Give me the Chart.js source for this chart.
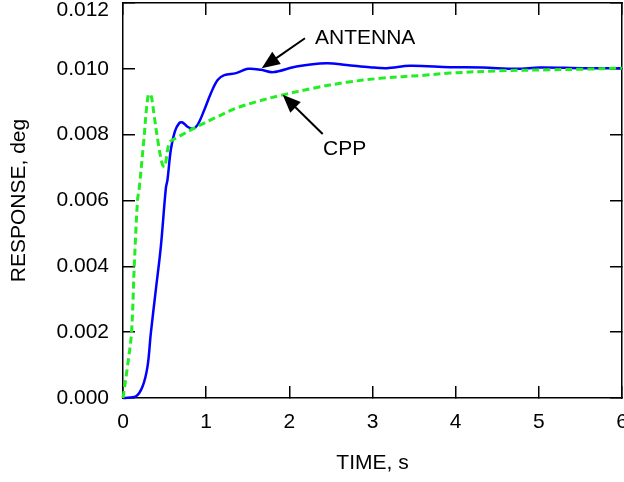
<!DOCTYPE html>
<html>
<head>
<meta charset="utf-8">
<title>Step response</title>
<script src="https://cdn.jsdelivr.net/npm/chart.js@4.4.1/dist/chart.umd.min.js"></script>
<style>
  html, body { margin: 0; padding: 0; background: #fff; }
</style>
</head>
<body>
<canvas id="responseChart" width="624" height="482"></canvas>
<script>
// time (s) and response (deg) for the antenna model
const antennaTime = [0, 0.154, 0.235, 0.295, 0.335, 0.395, 0.455, 0.515, 0.535, 0.575, 0.623, 0.676, 0.716,
    0.776, 0.837, 0.897, 0.977, 1.057, 1.138, 1.218, 1.358, 1.502, 1.663, 1.803, 2.085, 2.446, 2.687,
    2.967, 3.168, 3.449, 3.930, 4.327, 4.733, 5.013, 5.531, 6.0];
const antennaResp = [0, 0.00005, 0.00035, 0.00096, 0.00198, 0.00329, 0.00460, 0.00637, 0.00663, 0.00754,
    0.00809, 0.00835, 0.00837, 0.00824, 0.00818, 0.00830, 0.00875, 0.00926, 0.00966, 0.00981, 0.00987,
    0.01000, 0.00997, 0.00990, 0.01007, 0.01017, 0.01012, 0.01005, 0.01002, 0.01009, 0.01005, 0.01004,
    0.01000, 0.01004, 0.01002, 0.01002];

// time (s) and response (deg) for the CPP model
const cppTime = [0, 0.054, 0.102, 0.135, 0.175, 0.195, 0.247, 0.303, 0.335, 0.376, 0.424, 0.475, 0.503,
    0.536, 0.568, 0.656, 0.857, 1.098, 1.358, 1.602, 1.923, 2.285, 2.687, 3.087, 3.649, 3.930, 4.532,
    5.133, 5.531, 6.0];
const cppResp = [0, 0.00096, 0.00198, 0.00399, 0.00602, 0.00637, 0.00774, 0.00921, 0.00921, 0.00855,
    0.00774, 0.00708, 0.00703, 0.00754, 0.00779, 0.00792, 0.00820, 0.00850, 0.00880, 0.00900, 0.00921,
    0.00941, 0.00959, 0.00971, 0.00981, 0.00987, 0.00994, 0.00997, 0.00999, 0.01002];

const xTicks = [0, 1, 2, 3, 4, 5, 6];
const yTicks = [0, 0.002, 0.004, 0.006, 0.008, 0.010, 0.012];

// callouts: arrow from tail to tip, label placed at "at" (data units)
const callouts = [
    { text: 'ANTENNA', tail: [2.188, 0.01093], tip: [1.668, 0.01002], at: [2.309, 0.01094] },
    { text: 'CPP', tail: [2.401, 0.00802], tip: [1.920, 0.00921], at: [2.405, 0.00757] }
];

const FONT = 'Liberation Sans, Arial, Helvetica, sans-serif';

function toPoints(xs, ys) {
    return xs.map((x, i) => ({ x: x, y: ys[i] }));
}

// fixed box sizes so the plot area lands where it should
function fixSize(w, h) {
    return function (scale) {
        if (w !== null) scale.width = w;
        if (h !== null) scale.height = h;
        scale.paddingLeft = 0;
        scale.paddingRight = 0;
        scale.paddingTop = 0;
        scale.paddingBottom = 0;
    };
}

const frameGrid = {
    drawOnChartArea: false,
    drawTicks: true,
    tickLength: -12,       // inward tick marks
    color: '#000',
    lineWidth: 1.5
};
const frameBorder = { display: true, color: '#000', width: 1.5 };

function axis(extra) {
    return Object.assign({
        type: 'linear',
        grid: frameGrid,
        border: frameBorder
    }, extra);
}

const calloutPlugin = {
    id: 'callouts',
    afterDatasetsDraw(chart) {
        const ctx = chart.ctx;
        const xs = chart.scales.x;
        const ys = chart.scales.y;
        ctx.save();
        ctx.strokeStyle = '#000';
        ctx.fillStyle = '#000';
        ctx.lineWidth = 2;
        callouts.forEach(function (c) {
            const tx = xs.getPixelForValue(c.tail[0]);
            const ty = ys.getPixelForValue(c.tail[1]);
            const hx = xs.getPixelForValue(c.tip[0]);
            const hy = ys.getPixelForValue(c.tip[1]);
            const ang = Math.atan2(hy - ty, hx - tx);
            const len = 18, half = 7.5;
            const bx = hx - Math.cos(ang) * len;
            const by = hy - Math.sin(ang) * len;
            ctx.beginPath();
            ctx.moveTo(tx, ty);
            ctx.lineTo(bx + Math.cos(ang) * 2, by + Math.sin(ang) * 2);
            ctx.stroke();
            ctx.beginPath();
            ctx.moveTo(hx, hy);
            ctx.lineTo(bx - Math.sin(ang) * half, by + Math.cos(ang) * half);
            ctx.lineTo(bx + Math.sin(ang) * half, by - Math.cos(ang) * half);
            ctx.closePath();
            ctx.fill();

            ctx.font = '21px ' + FONT;
            ctx.textAlign = 'left';
            ctx.textBaseline = 'middle';
            ctx.fillText(c.text, xs.getPixelForValue(c.at[0]), ys.getPixelForValue(c.at[1]));
        });
        ctx.restore();
    }
};

new Chart(document.getElementById('responseChart'), {
    type: 'line',
    data: {
        datasets: [
            {
                label: 'CPP',
                data: toPoints(cppTime, cppResp),
                borderColor: '#22ee22',
                borderWidth: 3,
                borderDash: [7, 4],
                borderCapStyle: 'butt',
                pointRadius: 0,
                tension: 0.35,
                clip: 6
            },
            {
                label: 'ANTENNA',
                data: toPoints(antennaTime, antennaResp),
                borderColor: '#0000ff',
                borderWidth: 2.5,
                pointRadius: 0,
                tension: 0.35,
                clip: 6
            }
        ]
    },
    options: {
        responsive: false,
        animation: false,
        events: [],
        layout: {
            padding: { left: 0, right: 2, top: 3, bottom: 0 }
        },
        plugins: {
            legend: { display: false },
            tooltip: { enabled: false }
        },
        scales: {
            x: axis({
                position: 'bottom',
                min: 0,
                max: 6,
                afterBuildTicks: function (scale) {
                    scale.ticks = xTicks.map(v => ({ value: v }));
                },
                ticks: {
                    padding: 24,
                    color: '#000',
                    font: { family: FONT, size: 21 },
                    maxRotation: 0,
                    callback: v => String(v)
                },
                title: {
                    display: true,
                    text: 'TIME, s',
                    color: '#000',
                    font: { family: FONT, size: 21 },
                    padding: { top: 0, bottom: 6 }
                },
                afterFit: fixSize(null, 84)
            }),
            x2: axis({
                position: 'top',
                min: 0,
                max: 6,
                afterBuildTicks: function (scale) {
                    scale.ticks = xTicks.map(v => ({ value: v }));
                },
                ticks: { display: false },
                afterFit: fixSize(null, 0)
            }),
            y: axis({
                position: 'left',
                min: 0,
                max: 0.012,
                afterBuildTicks: function (scale) {
                    scale.ticks = yTicks.map(v => ({ value: v }));
                },
                ticks: {
                    padding: 26,
                    color: '#000',
                    font: function (c) {
                        // top label sits a little lower so it stays on the canvas
                        const top = c.tick && c.tick.value === yTicks[yTicks.length - 1];
                        return { family: FONT, size: 21, lineHeight: top ? 0.667 : 1.2 };
                    },
                    callback: function (v) {
                        const s = v.toFixed(3);
                        return v === yTicks[yTicks.length - 1] ? ['', s] : s;
                    }
                },
                title: {
                    display: true,
                    text: 'RESPONSE, deg',
                    color: '#000',
                    font: { family: FONT, size: 21 },
                    padding: { top: 7, bottom: 0 }
                },
                afterFit: fixSize(123, null)
            }),
            y2: axis({
                position: 'right',
                min: 0,
                max: 0.012,
                afterBuildTicks: function (scale) {
                    scale.ticks = yTicks.map(v => ({ value: v }));
                },
                ticks: { display: false },
                afterFit: fixSize(0, null)
            })
        }
    },
    plugins: [calloutPlugin]
});
</script>
</body>
</html>
